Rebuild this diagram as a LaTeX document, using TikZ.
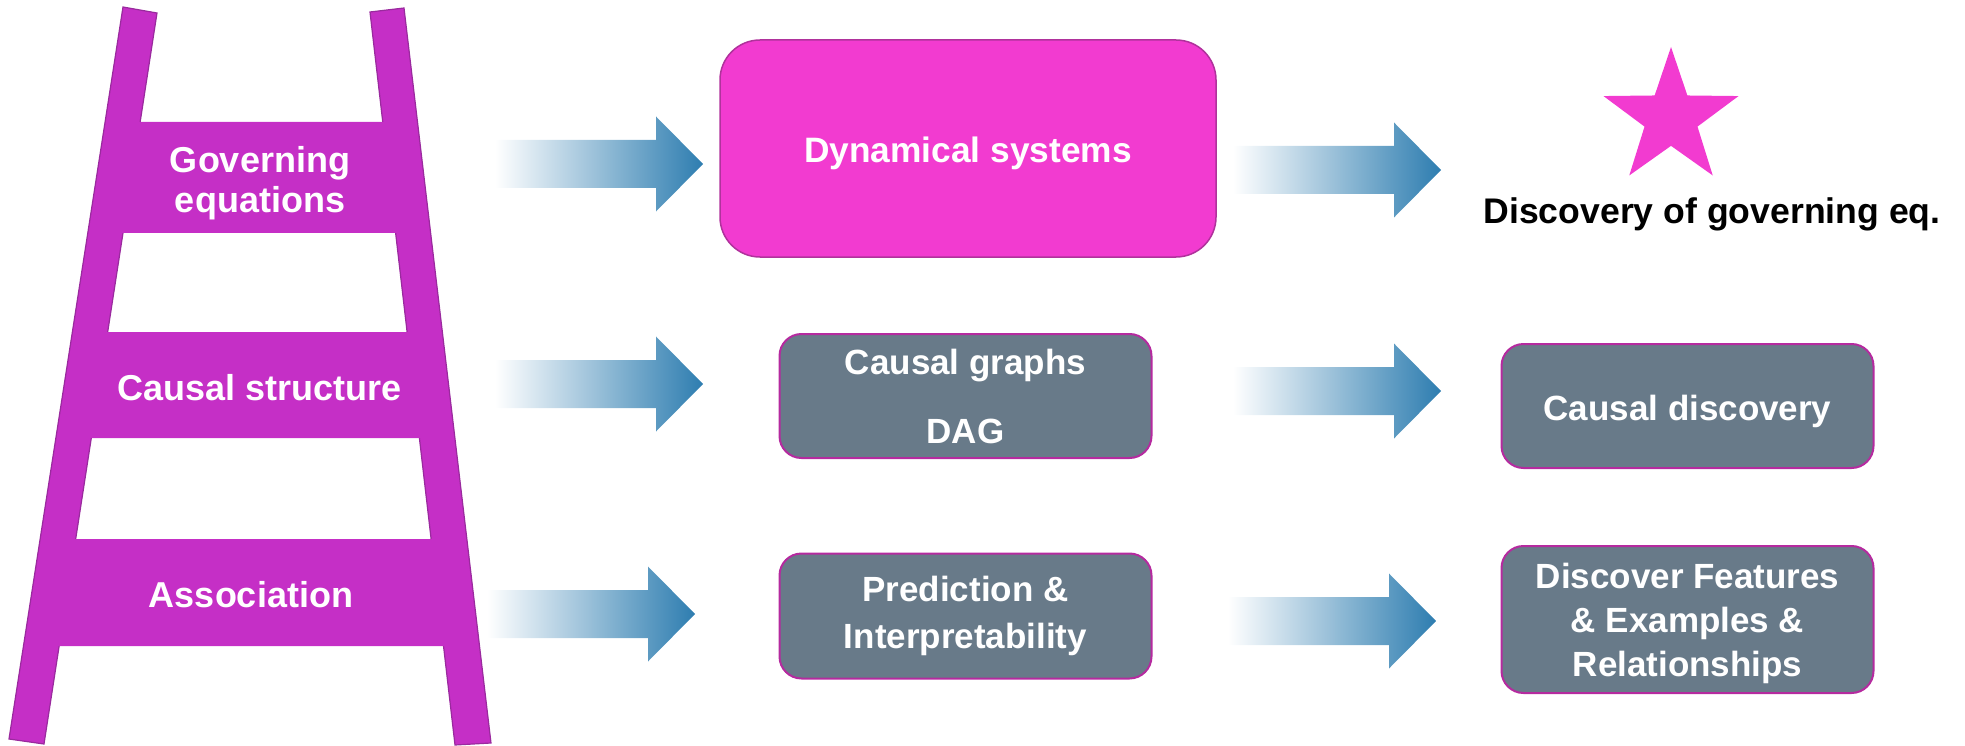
\documentclass[tikz,border=0pt]{standalone}
\usepackage{fontspec}
\setmainfont{Liberation Sans}
\usetikzlibrary{shapes.geometric}
\definecolor{ladder}{HTML}{C52FC6}
\definecolor{ladderedge}{HTML}{9A2A9E}
\definecolor{hotpink}{HTML}{F23BD0}
\definecolor{hotpinkedge}{HTML}{B0329C}
\definecolor{slate}{HTML}{687A89}
\definecolor{slateedge}{HTML}{B52A9F}
\definecolor{arrowblue}{HTML}{2E7DB0}

\begin{document}
\begin{tikzpicture}[x=1pt,y=-1pt,
  rungtext/.style={text=white, font=\bfseries\fontsize{36}{40}\selectfont, align=center, inner sep=0pt},
  pinkbox/.style={draw=hotpinkedge, line width=1.5pt, fill=hotpink, rounded corners=40pt,
    text=white, font=\bfseries\fontsize{35.3}{40}\selectfont, inner sep=0pt},
  slatebox/.style={draw=slateedge, line width=2pt, fill=slate, rounded corners=22pt,
    text=white, align=center, inner sep=0pt, minimum width=372pt},
  blockarrow/.pic={
    \shade[left color=white, right color=arrowblue]
      (0,-24) -- (161,-24) -- (161,-47.5) -- (208,0) -- (161,47.5) -- (161,24) -- (0,24) -- cycle;}
]
\useasboundingbox (0,0) rectangle (1965,746);

% ladder rails
\filldraw[fill=ladder, draw=ladderedge, line width=1.2pt]
  (123,7) -- (157,13) -- (44,744) -- (9,739) -- cycle;
\filldraw[fill=ladder, draw=ladderedge, line width=1.2pt]
  (370,12) -- (404,8) -- (491,743) -- (455,745) -- cycle;
% ladder rungs
\fill[ladder] (135,122) -- (388,122) -- (401,233) -- (118,233) -- cycle;
\fill[ladder] (103,332) -- (412,332) -- (424,438) -- (86,438) -- cycle;
\fill[ladder] (71,539) -- (436,539) -- (448,646) -- (54,646) -- cycle;

\node[rungtext] (rung1) at (260,183) {Governing\\equations};
\node[rungtext] (rung2) at (260,388) {Causal structure};
\node[rungtext] (rung3) at (251,595) {Association};

% middle column
\node[pinkbox, minimum width=496pt, minimum height=217pt, text height=28pt, text depth=0pt] (dyn) at (968,148.5) {Dynamical systems};
\node[slatebox, minimum height=124pt, font=\bfseries\fontsize{35}{69}\selectfont] (graphs) at (965.5,396) {Causal graphs\\DAG};
\node[slatebox, minimum height=125pt, font=\bfseries\fontsize{35}{47}\selectfont] (pred) at (965.5,616) {Prediction \&\\Interpretability};

% right column
\node[star, star points=5, star point ratio=2.55, minimum size=142pt, inner sep=0pt, fill=hotpink] (star) at (1671,118) {};
\node[font=\bfseries\fontsize{35.6}{40}\selectfont, anchor=base, inner sep=0pt] (goveq) at (1712,224) {Discovery of governing eq.};
\node[slatebox, minimum height=124pt, text height=28pt, text depth=0pt, font=\bfseries\fontsize{35}{42}\selectfont] (cdisc) at (1687.5,406) {Causal discovery};
\node[slatebox, minimum height=147pt, text depth=0pt, font=\bfseries\fontsize{35}{44}\selectfont] (feat) at (1687.5,619.5) {Discover Features\\\& Examples \&\\Relationships};

% block arrows
\pic at (495,164) {blockarrow};
\pic at (1233,170) {blockarrow};
\pic at (495,384) {blockarrow};
\pic at (1233,391) {blockarrow};
\pic at (487,614) {blockarrow};
\pic at (1228,621) {blockarrow};
\end{tikzpicture}
\end{document}
